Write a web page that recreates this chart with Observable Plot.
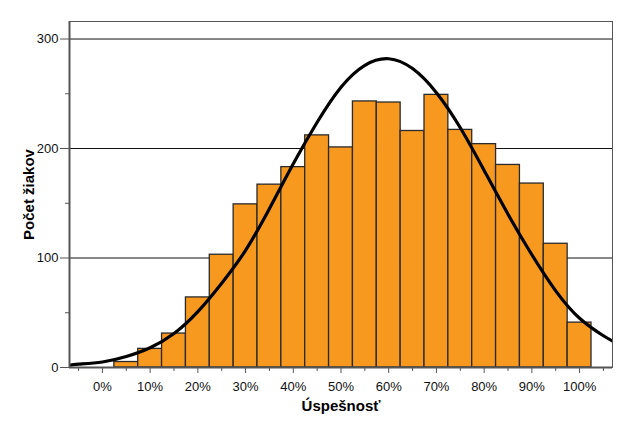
<!DOCTYPE html>
<html>
<head>
<meta charset="utf-8">
<script src="https://cdn.jsdelivr.net/npm/d3@7"></script>
<script src="https://cdn.jsdelivr.net/npm/@observablehq/plot@0.6"></script>
<style>
  html, body { margin: 0; padding: 0; background: #fff; }
  #chart { width: 624px; height: 424px; }
  #chart g[aria-label="y-axis label"] text { font-weight: bold; font-size: 15px; fill: #000; }
</style>
</head>
<body>
<div id="chart"></div>
<script>
// Histogram bins (centre of each 5 % bin) and counts
const binCenters = [5, 10, 15, 20, 25, 30, 35, 40, 45, 50, 55, 60, 65, 70, 75, 80, 85, 90, 95, 100];
const counts = [5, 17, 31, 64, 103, 149, 167, 183, 212, 201, 243, 242, 216, 249, 217, 204, 185, 168, 113, 41];

// Fitted normal curve
const curveX = [-7, -5, 0, 5, 10, 15, 20, 25, 30, 35, 40, 45, 50, 55, 60, 65, 70, 75, 80, 85, 90, 95, 100, 105, 107];
const curveY = [2, 3, 5, 10, 18, 31, 51, 77, 107, 145, 186, 224, 256, 276, 282, 273, 251, 219, 180, 140, 103, 70, 45, 29, 24];

// Ticks
const xMajor = [0, 10, 20, 30, 40, 50, 60, 70, 80, 90, 100];
const xMinor = [-5, 5, 15, 25, 35, 45, 55, 65, 75, 85, 95, 105];
const yMajor = [0, 100, 200, 300];
const yMinor = [50, 150, 250];
const gridLines = [100, 200, 300];

const yTitle = "Počet žiakov";
const xTitle = "Úspešnosť";

const bins = binCenters.map((c, i) => ({c, n: counts[i]}));
const curvePts = curveX.map((x, i) => ({x, y: curveY[i]}));

const X0 = -6.9, X1 = 106.9;

const chart = Plot.plot({
  width: 624,
  height: 424,
  marginLeft: 69,
  marginRight: 12,
  marginTop: 21,
  marginBottom: 57,
  style: {fontFamily: "'Liberation Sans', Arial, sans-serif", fontSize: "13px", color: "#111", background: "#fff"},
  x: {domain: [X0, X1]},
  y: {domain: [0, 316]},
  marks: [
    Plot.ruleY(gridLines, {stroke: "#111", strokeWidth: 1}),
    Plot.rectY(bins, {x1: d => d.c - 2.5, x2: d => d.c + 2.5, y1: 0, y2: "n", fill: "#f7991f", stroke: "#2a2a2a", strokeWidth: 1.3}),
    Plot.line(curvePts, {x: "x", y: "y", curve: "natural", stroke: "#000", strokeWidth: 3.2, clip: true}),
    Plot.frame({stroke: "#555", strokeWidth: 1}),
    Plot.ruleX([X0], {stroke: "#555", strokeWidth: 2}),
    Plot.ruleY([0], {stroke: "#555", strokeWidth: 2}),
    Plot.axisY({ticks: yMajor, tickSize: 9, tickPadding: 2, label: yTitle, labelAnchor: "center", labelArrow: "none", labelOffset: 46, stroke: "#555", fill: "#111"}),
    Plot.axisY({ticks: yMinor, tickSize: 4, tickFormat: () => "", label: null, stroke: "#555"}),
    Plot.axisX({ticks: xMajor, tickSize: 6, tickPadding: 8, tickFormat: d => d + "%", label: null, stroke: "#555", fill: "#111"}),
    Plot.axisX({ticks: xMinor, tickSize: 4, tickFormat: () => "", label: null, stroke: "#555"}),
    Plot.text([xTitle], {frameAnchor: "bottom", dy: 43, fontWeight: "bold", fontSize: 15, fill: "#000"})
  ]
});
document.getElementById("chart").appendChild(chart);
</script>
</body>
</html>
